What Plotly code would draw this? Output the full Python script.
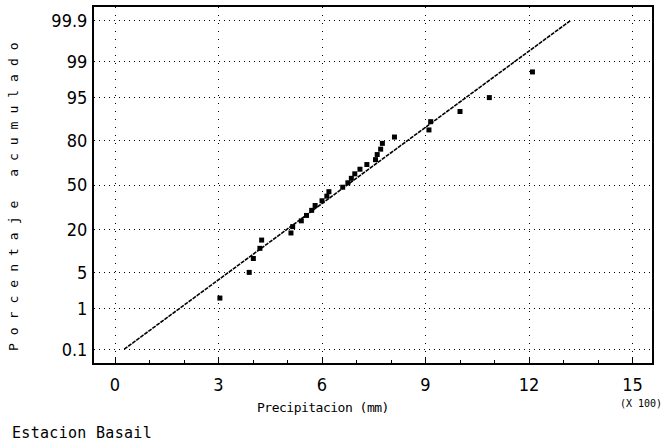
import plotly.graph_objects as go
from statistics import NormalDist, mean, stdev

# Precipitation sample (units of 100 mm), Estacion Basail
precip = [3.04, 3.89, 4.01, 4.20, 4.25, 5.10, 5.15, 5.40, 5.55, 5.70,
          5.80, 6.00, 6.14, 6.20, 6.60, 6.75, 6.85, 6.95, 7.10, 7.30,
          7.55, 7.60, 7.70, 7.75, 8.10, 9.10, 9.15, 10.00, 10.85, 12.10]

pct_ticks = [0.1, 1, 5, 20, 50, 80, 95, 99, 99.9]
pct_labels = ["0.1", "1", "5", "20", "50", "80", "95", "99", "99.9"]
x_ticks = [0, 3, 6, 9, 12, 15]
x_labels = ["0", "3", "6", "9", "12", "15"]
fit_span = [0.1, 99.9]  # percent range covered by the fitted line

nd = NormalDist()
xs = sorted(precip)
n = len(xs)
# Hazen plotting positions on a normal-probability (z) scale
z_pts = [nd.inv_cdf((i - 0.5) / n) for i in range(1, n + 1)]

# Fitted normal distribution drawn as a straight line
m, s = mean(xs), stdev(xs)
z_line = [nd.inv_cdf(p / 100) for p in fit_span]
x_line = [m + s * v for v in z_line]

FONT = "Liberation Sans Narrow, DejaVu Sans Condensed, Liberation Sans"
MONO = "DejaVu Sans Mono"

fig = go.Figure()
fig.add_trace(go.Scatter(
    x=x_line, y=z_line, mode="lines",
    line=dict(color="black", width=1.6, dash="4px,1px"),
    hoverinfo="skip", showlegend=False))
fig.add_trace(go.Scatter(
    x=xs, y=z_pts, mode="markers",
    marker=dict(symbol="square", size=5, color="black"),
    showlegend=False))

L, R, T, B = 94, 652, 5, 363
W, H = 662, 442

def px(xp):
    return (xp - L) / (R - L)

def py(yp):
    return (B - yp) / (B - T)

fig.update_layout(
    width=W, height=H,
    margin=dict(l=L, r=W - R, t=T, b=H - B),
    paper_bgcolor="white", plot_bgcolor="white",
    font=dict(family=FONT, color="black", size=17),
    xaxis=dict(
        range=[-0.609, 15.565],
        tickmode="array", tickvals=x_ticks, ticktext=x_labels,
        showgrid=True, gridcolor="black", gridwidth=1, griddash="1px,7px",
        showline=True, linecolor="black", linewidth=2, mirror=True,
        ticks="inside", ticklen=6, tickcolor="black", tickwidth=1,
        minor=dict(dtick=1, ticks="inside", ticklen=3, tickcolor="black",
                   showgrid=False),
        zeroline=False, ticklabelstandoff=4,
        tickfont=dict(family=FONT, size=18),
    ),
    yaxis=dict(
        range=[-3.35, 3.35],
        tickmode="array",
        tickvals=[nd.inv_cdf(p / 100) for p in pct_ticks],
        ticktext=pct_labels,
        showgrid=True, gridcolor="black", gridwidth=1, griddash="1px,4px",
        showline=True, linecolor="black", linewidth=2, mirror=True,
        ticks="", zeroline=False, ticklabelstandoff=1,
        tickfont=dict(family=FONT, size=18),
    ),
    annotations=[
        dict(text='<span style="letter-spacing:-0.5px">Precipitacion (mm)</span>',
             xref="paper", yref="paper",
             x=px(323), y=py(408), xanchor="center", yanchor="middle",
             showarrow=False, font=dict(family=MONO, size=13)),
        dict(text="(X 100)", xref="paper", yref="paper",
             x=px(641), y=py(404), xanchor="center", yanchor="middle",
             showarrow=False, font=dict(family=MONO, size=10)),
        dict(text='<span style="letter-spacing:0.3px">Estacion Basail</span>',
             xref="paper", yref="paper",
             x=px(10), y=py(433), xanchor="left", yanchor="middle",
             showarrow=False, font=dict(family=MONO, size=15)),
        dict(text='<span style="letter-spacing:8px">Porcentaje acumulado</span>',
             xref="paper", yref="paper", textangle=-90,
             x=px(14), y=py(192), xanchor="center", yanchor="middle",
             showarrow=False, font=dict(family=MONO, size=13)),
    ],
)

fig.write_html("out.html")
